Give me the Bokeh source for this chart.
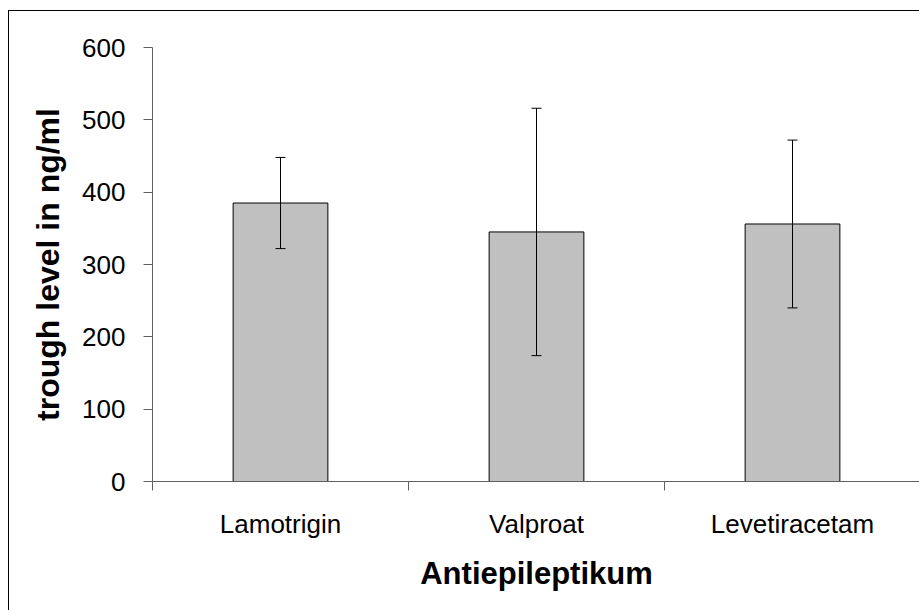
from bokeh.plotting import figure
from bokeh.models import ColumnDataSource, Whisker, FixedTicker, TeeHead, Range1d
from bokeh.embed import file_html
from bokeh.resources import INLINE

categories = ["Lamotrigin", "Valproat", "Levetiracetam"]
means = [385, 345, 356]
errors = [63, 171, 116]
y_ticks = [0, 100, 200, 300, 400, 500, 600]

positions = [i + 0.5 for i in range(len(categories))]
boundaries = [float(i) for i in range(len(categories) + 1)]
src = ColumnDataSource(dict(
    x=positions,
    top=means,
    upper=[m + e for m, e in zip(means, errors)],
    lower=[m - e for m, e in zip(means, errors)],
))

p = figure(width=911, height=600,
           x_range=Range1d(0, len(categories)), y_range=Range1d(0, 600),
           output_backend="svg", toolbar_location=None,
           min_border_left=143, min_border_top=36, min_border_right=0,
           min_border_bottom=130, margin=(10, 0, 0, 8))
p.styles = {"border-left": "1px solid black", "border-top": "1px solid black"}
p.outline_line_color = None
p.xgrid.visible = False
p.ygrid.visible = False

p.vbar(x="x", top="top", bottom=0, width=0.37, source=src,
       fill_color="#c0c0c0", line_color="black", line_width=1)

wh = Whisker(base="x", upper="upper", lower="lower", source=src,
             line_color="black", line_width=1,
             upper_head=TeeHead(size=10, line_color="black", line_width=1),
             lower_head=TeeHead(size=10, line_color="black", line_width=1))
wh.level = "annotation"
p.add_layout(wh)

axis_color = "#606060"
font = "Liberation Sans"

xa = p.xaxis[0]
xa.ticker = FixedTicker(ticks=positions, minor_ticks=boundaries)
xa.major_label_overrides = {pos: c for pos, c in zip(positions, categories)}
xa.major_tick_out = 0
xa.major_tick_in = 0
xa.minor_tick_out = 9
xa.minor_tick_in = 0
xa.axis_line_color = axis_color
xa.minor_tick_line_color = axis_color
xa.major_label_text_font = font
xa.major_label_text_font_size = "26px"
xa.major_label_text_color = "black"
xa.major_label_standoff = 18
xa.axis_label = "Antiepileptikum"
xa.axis_label_text_font = font
xa.axis_label_text_font_size = "31px"
xa.axis_label_text_font_style = "bold"
xa.axis_label_text_color = "black"
xa.axis_label_standoff = 14

ya = p.yaxis[0]
ya.ticker = FixedTicker(ticks=y_ticks)
ya.major_tick_out = 9
ya.major_tick_in = 0
ya.minor_tick_line_color = None
ya.axis_line_color = axis_color
ya.major_tick_line_color = axis_color
ya.major_label_text_font = font
ya.major_label_text_font_size = "26px"
ya.major_label_text_color = "black"
ya.major_label_standoff = 18
ya.axis_label = "trough level in ng/ml"
ya.axis_label_text_font = font
ya.axis_label_text_font_size = "32px"
ya.axis_label_text_font_style = "bold"
ya.axis_label_text_color = "black"
ya.axis_label_standoff = 13

open("out.html", "w").write(file_html(p, INLINE))
